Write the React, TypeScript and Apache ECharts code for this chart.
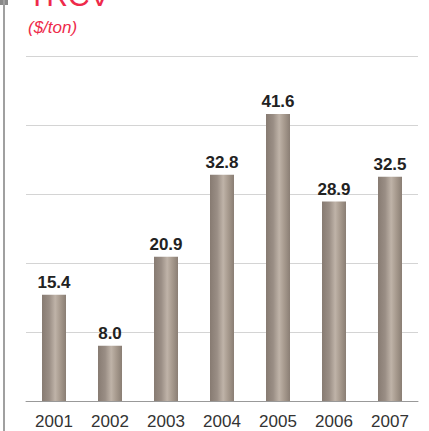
import React, { useEffect, useRef } from "react";
import * as echarts from "echarts";

const years = ["2001", "2002", "2003", "2004", "2005", "2006", "2007"];
const trcv = [15.4, 8.0, 20.9, 32.8, 41.6, 28.9, 32.5];
const titleText = "TRCV";
const unitText = "($/ton)";

export default function App() {
  const ref = useRef<HTMLDivElement>(null);
  useEffect(() => {
    const chart = echarts.init(ref.current!, null, { renderer: "svg" });
    const barGrad = new echarts.graphic.LinearGradient(0, 0, 1, 0, [
      { offset: 0, color: "#877b72" },
      { offset: 0.3, color: "#9a8e85" },
      { offset: 0.55, color: "#bfb3a8" },
      { offset: 0.75, color: "#a89b8f" },
      { offset: 1, color: "#8a7e74" },
    ]);
    chart.setOption({
      animation: false,
      grid: { left: 26, right: 11, top: 56, bottom: 30, containLabel: false },
      xAxis: {
        type: "category",
        data: years,
        axisLine: { lineStyle: { color: "#999", width: 1 } },
        axisTick: { show: false },
        axisLabel: {
          color: "#333",
          fontSize: 17,
          fontFamily: "Liberation Sans, Arial, sans-serif",
          margin: 12,
        },
      },
      yAxis: {
        type: "value",
        min: 0,
        max: 50,
        interval: 10,
        axisLine: { show: false },
        axisTick: { show: false },
        axisLabel: { show: false },
        splitLine: { lineStyle: { color: "#d4d4d4", width: 1 } },
      },
      series: [
        {
          type: "bar",
          data: trcv,
          barWidth: 24,
          itemStyle: { color: barGrad },
          label: {
            show: true,
            position: "top",
            distance: 4,
            formatter: (p: any) => p.value.toFixed(1),
            color: "#222",
            fontSize: 17,
            fontWeight: "bold",
            fontFamily: "Liberation Sans, Arial, sans-serif",
          },
        },
      ],
      graphic: [
        { type: "rect", shape: { x: 0, y: 0, width: 8, height: 5 }, style: { fill: "#8a8a8a" } },
        { type: "line", shape: { x1: 4, y1: 0, x2: 4, y2: 431 }, style: { stroke: "#a0a0a0", lineWidth: 2 } },
        {
          type: "text",
          x: 28,
          y: 10,
          style: {
            text: titleText,
            fill: "#ee2a4a",
            font: "30px 'Liberation Sans', Arial, sans-serif",
            verticalAlign: "bottom",
          },
        },
        {
          type: "text",
          x: 28,
          y: 27,
          style: {
            text: unitText,
            fill: "#ee2a4a",
            font: "italic 17px 'Liberation Sans', Arial, sans-serif",
            verticalAlign: "middle",
          },
        },
      ],
    });
    return () => chart.dispose();
  }, []);
  return <div ref={ref} style={{ width: 429, height: 431, position: "absolute", left: 0, top: 0 }} />;
}
